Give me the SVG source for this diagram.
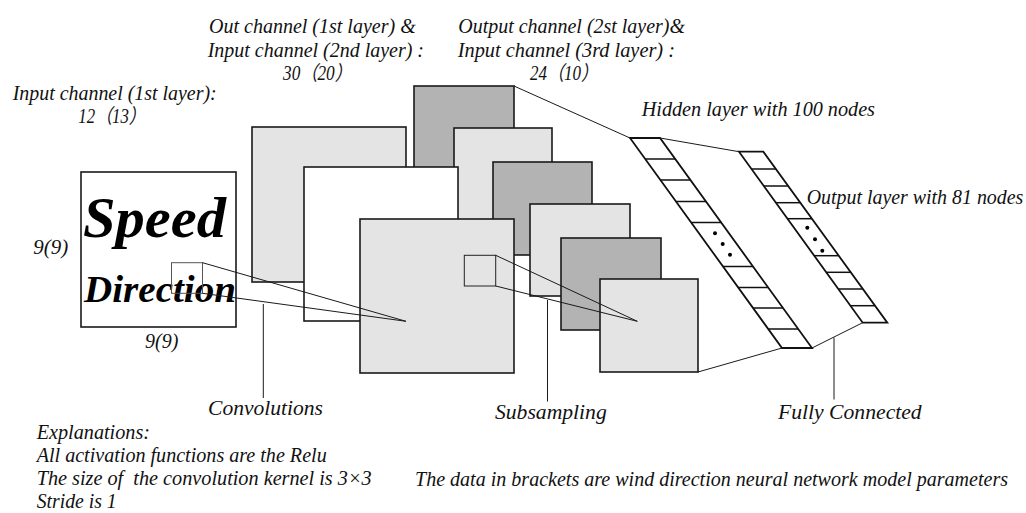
<svg xmlns="http://www.w3.org/2000/svg" width="1026" height="513" viewBox="0 0 1026 513">
  <style>
    .lbl { font-family: "Liberation Serif", "Noto Sans CJK SC", serif; font-style: italic; font-size: 20px; fill: #111; }
    .script { font-family: "Liberation Serif", serif; font-style: italic; font-weight: bold; fill: #000; }
    .map { stroke: #1a1a1a; stroke-width: 1.6; }
    .light { fill: #e4e4e4; }
    .dark { fill: #b3b3b3; }
    .white { fill: #ffffff; }
    .thin { stroke: #1a1a1a; stroke-width: 1; fill: none; }
    .band { fill: #fff; stroke: #111; stroke-width: 1.8; stroke-linejoin: miter; }
    .cell { stroke: #111; stroke-width: 1.5; }
    .kernel { fill: none; stroke: #555; stroke-width: 1; }
  </style>

  <rect width="1026" height="513" fill="#fff"/>

  <!-- input map -->
  <g id="input">
    <rect class="map white" x="81" y="172" width="155" height="155"/>
    <text class="script" x="83" y="237" font-size="56" textLength="143" lengthAdjust="spacingAndGlyphs">Speed</text>
    <text class="script" x="84" y="302" font-size="38" textLength="152" lengthAdjust="spacingAndGlyphs">Direction</text>
    <rect class="kernel" x="171.5" y="262.7" width="31" height="30.6"/>
  </g>

  <!-- subsampling maps (back to front) -->
  <g id="sub1"><rect class="map dark" x="414" y="86" width="100" height="93"/></g>
  <g id="sub2"><rect class="map light" x="454" y="128" width="98" height="93"/></g>
  <g id="sub3"><rect class="map dark" x="493" y="162" width="99" height="93"/></g>
  <g id="sub4"><rect class="map light" x="530" y="204" width="100" height="92"/></g>
  <g id="sub5"><rect class="map dark" x="561" y="238" width="100" height="92"/></g>
  <g id="sub6"><rect class="map light" x="600" y="279" width="98" height="93"/></g>

  <!-- convolution maps (back to front) -->
  <g id="conv1"><rect class="map light" x="252" y="127" width="154" height="155"/></g>
  <g id="conv2"><rect class="map white" x="304" y="167" width="154" height="154"/></g>
  <g id="conv3">
    <rect class="map light" x="360" y="219" width="154" height="154"/>
    <rect class="kernel" style="stroke:#222" x="464.3" y="255.3" width="31.4" height="30.7"/>
  </g>

  <!-- hidden layer -->
  <g id="hidden">
    <polygon class="band" points="630,138 660,138 812,348 782,348"/>
    <line class="cell" x1="645.2" y1="159" x2="675.2" y2="159"/>
    <line class="cell" x1="660.4" y1="180" x2="690.4" y2="180"/>
    <line class="cell" x1="676" y1="201.5" x2="706" y2="201.5"/>
    <line class="cell" x1="691.2" y1="222.5" x2="721.2" y2="222.5"/>
    <line class="cell" x1="723" y1="266.5" x2="753" y2="266.5"/>
    <line class="cell" x1="738.2" y1="287.5" x2="768.2" y2="287.5"/>
    <line class="cell" x1="753" y1="308" x2="783" y2="308"/>
    <line class="cell" x1="768.2" y1="329" x2="798.2" y2="329"/>
    <circle cx="715" cy="233.3" r="2"/>
    <circle cx="722.7" cy="244" r="2"/>
    <circle cx="730" cy="254.7" r="2"/>
  </g>

  <!-- output layer -->
  <g id="output">
    <polygon class="band" points="739,151.7 763.3,151.7 887.3,322.7 862.7,322.7"/>
    <line class="cell" x1="751.5" y1="169" x2="775.9" y2="169"/>
    <line class="cell" x1="763.8" y1="186" x2="788.2" y2="186"/>
    <line class="cell" x1="775.9" y1="202.7" x2="800.3" y2="202.7"/>
    <line class="cell" x1="787.5" y1="218.7" x2="811.9" y2="218.7"/>
    <line class="cell" x1="814.2" y1="255.7" x2="838.6" y2="255.7"/>
    <line class="cell" x1="826.2" y1="272.3" x2="850.6" y2="272.3"/>
    <line class="cell" x1="838.3" y1="289" x2="862.7" y2="289"/>
    <line class="cell" x1="850.4" y1="305.7" x2="874.8" y2="305.7"/>
    <circle cx="807.3" cy="227.7" r="2"/>
    <circle cx="815" cy="239.3" r="2"/>
    <circle cx="822.3" cy="250.7" r="2"/>
  </g>

  <!-- connectors -->
  <g id="connectors" class="thin">
    <line x1="202.5" y1="262.7" x2="406" y2="321.3"/>
    <line x1="202.5" y1="293.3" x2="406" y2="321.3"/>
    <line x1="495.7" y1="255.3" x2="637.3" y2="321.3"/>
    <line x1="495.7" y1="286" x2="637.3" y2="321.3"/>
    <line x1="514" y1="86" x2="630" y2="138"/>
    <line x1="660" y1="138" x2="739" y2="151.7"/>
    <line x1="698" y1="372" x2="782" y2="348"/>
    <line x1="812" y1="348" x2="862.7" y2="322.7"/>
    <line x1="263.3" y1="304" x2="263.3" y2="398"/>
    <line x1="547.5" y1="300" x2="547.5" y2="401.5"/>
    <line x1="834" y1="337.5" x2="834" y2="399.5"/>
  </g>

  <!-- labels -->
  <g id="labels">
    <text class="lbl" x="12.7" y="100" textLength="204" lengthAdjust="spacingAndGlyphs">Input channel (1st layer):</text>
    <text class="lbl" x="78.3" y="123.3" textLength="67.4" lengthAdjust="spacingAndGlyphs">12（13）</text>
    <text class="lbl" x="209" y="32.5" textLength="206.7" lengthAdjust="spacingAndGlyphs">Out channel (1st layer) &amp;</text>
    <text class="lbl" x="207.7" y="56.7" textLength="216.3" lengthAdjust="spacingAndGlyphs">Input channel (2nd layer) :</text>
    <text class="lbl" x="283" y="79.5" textLength="69" lengthAdjust="spacingAndGlyphs">30（20）</text>
    <text class="lbl" x="458.3" y="32.5" textLength="226.7" lengthAdjust="spacingAndGlyphs">Output channel (2st layer)&amp;</text>
    <text class="lbl" x="457.7" y="56.7" textLength="217.3" lengthAdjust="spacingAndGlyphs">Input channel (3rd layer) :</text>
    <text class="lbl" x="530" y="80" textLength="68" lengthAdjust="spacingAndGlyphs">24（10）</text>
    <text class="lbl" x="641.7" y="116" textLength="233.3" lengthAdjust="spacingAndGlyphs">Hidden layer with 100 nodes</text>
    <text class="lbl" x="806.7" y="204" textLength="216.6" lengthAdjust="spacingAndGlyphs">Output layer with 81 nodes</text>
    <text class="lbl" x="33.3" y="254" textLength="35" lengthAdjust="spacingAndGlyphs">9(9)</text>
    <text class="lbl" x="145" y="348" textLength="33.3" lengthAdjust="spacingAndGlyphs">9(9)</text>
    <text class="lbl" x="208" y="415" textLength="115" lengthAdjust="spacingAndGlyphs">Convolutions</text>
    <text class="lbl" x="495" y="419" textLength="111.7" lengthAdjust="spacingAndGlyphs">Subsampling</text>
    <text class="lbl" x="778" y="419" textLength="143.7" lengthAdjust="spacingAndGlyphs">Fully Connected</text>
    <text class="lbl" x="36.7" y="438.5" textLength="113.3" lengthAdjust="spacingAndGlyphs">Explanations:</text>
    <text class="lbl" x="36.7" y="462" textLength="290" lengthAdjust="spacingAndGlyphs">All activation functions are the Relu</text>
    <text class="lbl" x="36.7" y="485" textLength="335" lengthAdjust="spacingAndGlyphs" xml:space="preserve">The size of  the convolution kernel is 3×3</text>
    <text class="lbl" x="36.7" y="507.5" textLength="80" lengthAdjust="spacingAndGlyphs">Stride is 1</text>
    <text class="lbl" x="415" y="486" textLength="593" lengthAdjust="spacingAndGlyphs">The data in brackets are wind direction neural network model parameters</text>
  </g>
</svg>
